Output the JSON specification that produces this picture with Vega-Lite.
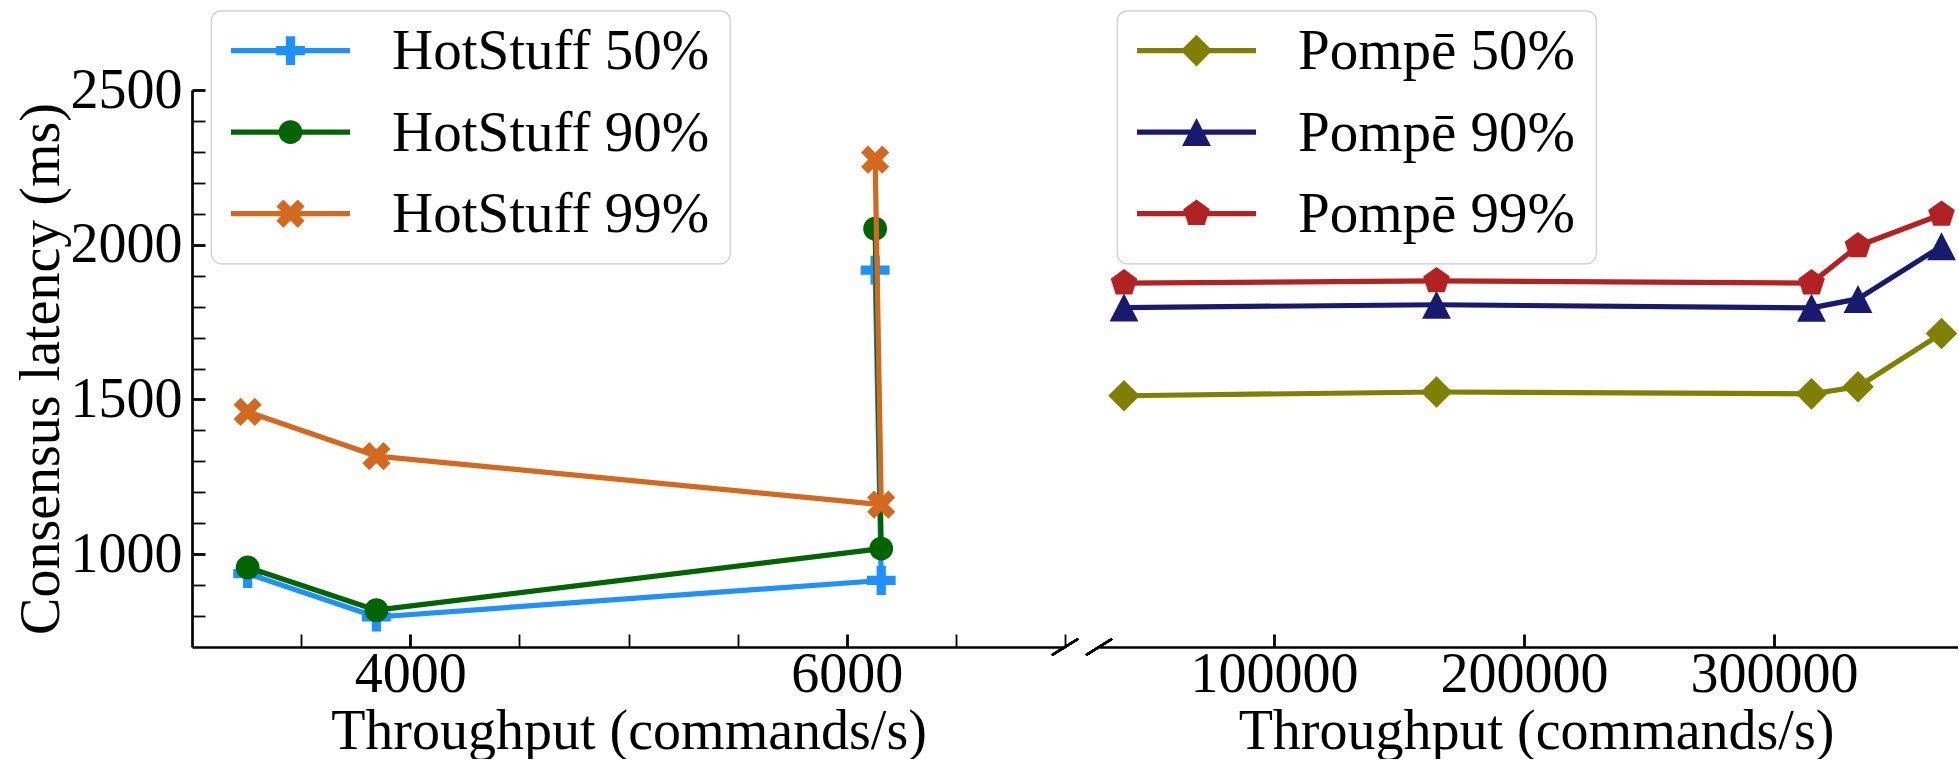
{
  "$schema": "https://vega.github.io/schema/vega-lite/v6.json",
  "padding": {"left": 12, "top": 9, "right": 0, "bottom": 0},
  "background": "white",
  "bounds": "flush",
  "spacing": 34,
  "config": {
    "font": "Liberation Serif",
    "view": {"stroke": null},
    "axis": {
      "domainColor": "black", "domainWidth": 2.7, "tickColor": "black", "tickWidth": 2.2,
      "labelColor": "black", "titleColor": "black",
      "labelFont": "Liberation Serif", "titleFont": "Liberation Serif",
      "labelFontSize": 56, "titleFontSize": 56, "titleFontWeight": "normal",
      "grid": false, "tickSize": -13, "labelFlush": false, "labelOverlap": false, "labelBound": false
    },
    "legend": {
      "labelFont": "Liberation Serif", "labelFontSize": 57, "labelColor": "black", "labelLimit": 0,
      "symbolSize": 784, "symbolStrokeWidth": 0, "padding": 20,
      "fillColor": "white", "strokeColor": "#cccccc", "strokeWidth": 1.2, "cornerRadius": 10,
      "rowPadding": 23.5, "symbolOffset": 31, "labelOffset": 73
    }
  },
  "datasets": {
    "hs": [
      {"series": "HotStuff 50%", "x": 3255, "y": 937, "i": 0},
      {"series": "HotStuff 50%", "x": 3845, "y": 797, "i": 1},
      {"series": "HotStuff 50%", "x": 6158, "y": 915, "i": 2},
      {"series": "HotStuff 50%", "x": 6130, "y": 1918, "i": 3},
      {"series": "HotStuff 90%", "x": 3255, "y": 957, "i": 0},
      {"series": "HotStuff 90%", "x": 3845, "y": 819, "i": 1},
      {"series": "HotStuff 90%", "x": 6158, "y": 1018, "i": 2},
      {"series": "HotStuff 90%", "x": 6130, "y": 2052, "i": 3},
      {"series": "HotStuff 99%", "x": 3255, "y": 1460, "i": 0},
      {"series": "HotStuff 99%", "x": 3845, "y": 1317, "i": 1},
      {"series": "HotStuff 99%", "x": 6158, "y": 1160, "i": 2},
      {"series": "HotStuff 99%", "x": 6130, "y": 2275, "i": 3}
    ],
    "pm": [
      {"series": "Pompē 50%", "x": 40000, "y": 1512, "i": 0},
      {"series": "Pompē 50%", "x": 165000, "y": 1524, "i": 1},
      {"series": "Pompē 50%", "x": 315000, "y": 1518, "i": 2},
      {"series": "Pompē 50%", "x": 333600, "y": 1541, "i": 3},
      {"series": "Pompē 50%", "x": 367000, "y": 1713, "i": 4},
      {"series": "Pompē 90%", "x": 40000, "y": 1797, "i": 0},
      {"series": "Pompē 90%", "x": 165000, "y": 1806, "i": 1},
      {"series": "Pompē 90%", "x": 315000, "y": 1796, "i": 2},
      {"series": "Pompē 90%", "x": 333600, "y": 1825, "i": 3},
      {"series": "Pompē 90%", "x": 367000, "y": 1995, "i": 4},
      {"series": "Pompē 99%", "x": 40000, "y": 1876, "i": 0},
      {"series": "Pompē 99%", "x": 165000, "y": 1883, "i": 1},
      {"series": "Pompē 99%", "x": 315000, "y": 1876, "i": 2},
      {"series": "Pompē 99%", "x": 333600, "y": 1996, "i": 3},
      {"series": "Pompē 99%", "x": 367000, "y": 2098, "i": 4}
    ]
  },
  "hconcat": [
    {
      "width": 873,
      "height": 557,
      "data": {"name": "hs"},
      "encoding": {
        "x": {"field": "x", "type": "quantitative", "scale": {"domain": [3000, 7000], "nice": false, "zero": false},
          "axis": {"values": [3500, 4000, 4500, 5000, 5500, 6000, 6500, 7000], "format": "d",
            "labelExpr": "datum.value % 2000 === 0 ? datum.label : ''",
            "tickWidth": {"condition": {"test": "datum.value % 2000 === 0", "value": 2.8}, "value": 1.8},
            "labelPadding": 13, "title": "Throughput (commands/s)", "titlePadding": 2}},
        "y": {"field": "y", "type": "quantitative", "scale": {"domain": [700, 2500], "nice": false, "zero": false},
          "axis": {"values": [800, 900, 1000, 1100, 1200, 1300, 1400, 1500, 1600, 1700, 1800, 1900, 2000, 2100, 2200, 2300, 2400, 2500], "format": "d",
            "labelExpr": "datum.value % 500 === 0 ? datum.label : ''",
            "tickWidth": {"condition": {"test": "datum.value % 500 === 0", "value": 2.8}, "value": 1.8},
            "labelPadding": 23, "title": "Consensus latency (ms)", "titlePadding": 0}},
        "color": {"field": "series", "type": "nominal",
          "scale": {"domain": ["HotStuff 50%", "HotStuff 90%", "HotStuff 99%"], "range": ["#1E90FF", "#006400", "#D2691E"]},
          "legend": {"orient": "none", "legendX": 19, "legendY": -79.5, "title": null,
            "encode": {
              "labels": {"update": {"dy": {"value": -7}}},
              "symbols": {"update": {"strokeWidth": {"value": 0}, "shape": {"signal": "datum.value === 'HotStuff 50%' ? 'M-4.25,-0.785H4.25V-0.415H-4.25Z M-0.33,-1.63H0.33V-0.93H1.03V-0.27H0.33V0.43H-0.33V-0.27H-1.03V-0.93H-0.33Z' : datum.value === 'HotStuff 90%' ? 'M-4.25,-0.785H4.25V-0.415H-4.25Z M0.85,-0.6A0.85,0.85,0,1,1,-0.85,-0.6A0.85,0.85,0,1,1,0.85,-0.6Z' : 'M-4.25,-0.785H4.25V-0.415H-4.25Z M1.004,-1.109L0.495,-0.6L1.004,-0.091L0.509,0.404L0,-0.105L-0.509,0.404L-1.004,-0.091L-0.495,-0.6L-1.004,-1.109L-0.509,-1.604L0,-1.095L0.509,-1.604Z'"}}}}}}
      },
      "layer": [
        {
          "mark": {"type": "rule", "color": "black", "strokeWidth": 2},
          "encoding": {
            "x": {"datum": 6940, "type": "quantitative"},
            "x2": {"datum": 7060},
            "y": {"datum": 674, "type": "quantitative"},
            "y2": {"datum": 726},
            "color": {"value": "black"}
          }
        },
        {
          "transform": [{"filter": "datum.series === 'HotStuff 50%'"}],
          "mark": {"type": "line", "strokeWidth": 5.2, "strokeJoin": "round", "strokeCap": "square"},
          "encoding": {"order": {"field": "i", "type": "quantitative"}}
        },
        {
          "transform": [{"filter": "datum.series === 'HotStuff 50%'"}],
          "mark": {"type": "point", "filled": true, "opacity": 1, "size": 784, "shape": "M-0.33,-1.03H0.33V-0.33H1.03V0.33H0.33V1.03H-0.33V0.33H-1.03V-0.33H-0.33Z"}
        },
        {
          "transform": [{"filter": "datum.series === 'HotStuff 90%'"}],
          "mark": {"type": "line", "strokeWidth": 5.2, "strokeJoin": "round", "strokeCap": "square"},
          "encoding": {"order": {"field": "i", "type": "quantitative"}}
        },
        {
          "transform": [{"filter": "datum.series === 'HotStuff 90%'"}],
          "mark": {"type": "point", "filled": true, "opacity": 1, "size": 784, "shape": "M0.85,0A0.85,0.85,0,1,1,-0.85,0A0.85,0.85,0,1,1,0.85,0Z"}
        },
        {
          "transform": [{"filter": "datum.series === 'HotStuff 99%'"}],
          "mark": {"type": "line", "strokeWidth": 5.2, "strokeJoin": "round", "strokeCap": "square"},
          "encoding": {"order": {"field": "i", "type": "quantitative"}}
        },
        {
          "transform": [{"filter": "datum.series === 'HotStuff 99%'"}],
          "mark": {"type": "point", "filled": true, "opacity": 1, "size": 784, "shape": "M1.004,-0.509L0.495,0L1.004,0.509L0.509,1.004L0,0.495L-0.509,1.004L-1.004,0.509L-0.495,0L-1.004,-0.509L-0.509,-1.004L0,-0.495L0.509,-1.004Z"}
        }
      ]
    },
    {
      "width": 859,
      "height": 557,
      "data": {"name": "pm"},
      "encoding": {
        "x": {"field": "x", "type": "quantitative", "scale": {"domain": [30000, 373600], "nice": false, "zero": false},
          "axis": {"values": [100000, 200000, 300000], "format": "d", "tickWidth": 2.8,
            "labelPadding": 13, "title": "Throughput (commands/s)", "titlePadding": 2, "titleX": 437}},
        "y": {"field": "y", "type": "quantitative", "scale": {"domain": [700, 2500], "nice": false, "zero": false}, "axis": null},
        "color": {"field": "series", "type": "nominal",
          "scale": {"domain": ["Pompē 50%", "Pompē 90%", "Pompē 99%"], "range": ["#808000", "#191970", "#B22222"]},
          "legend": {"orient": "none", "legendX": 18, "legendY": -79.5, "title": null,
            "encode": {
              "labels": {"update": {"dy": {"value": -7}}},
              "symbols": {"update": {"strokeWidth": {"value": 0}, "shape": {"signal": "datum.value === 'Pompē 50%' ? 'M-4.25,-0.785H4.25V-0.415H-4.25Z M0,-1.73L1.13,-0.6L0,0.53L-1.13,-0.6Z' : datum.value === 'Pompē 90%' ? 'M-4.25,-0.785H4.25V-0.415H-4.25Z M0,-1.6L1.03,0.4L-1.03,0.4Z' : 'M-4.25,-0.785H4.25V-0.415H-4.25Z M0,-1.6L0.951,-0.909L0.588,0.209L-0.588,0.209L-0.951,-0.909Z'"}}}}}}
      },
      "layer": [
        {
          "mark": {"type": "rule", "color": "black", "strokeWidth": 2},
          "encoding": {
            "x": {"datum": 24800, "type": "quantitative"},
            "x2": {"datum": 35200},
            "y": {"datum": 674, "type": "quantitative"},
            "y2": {"datum": 726},
            "color": {"value": "black"}
          }
        },
        {
          "transform": [{"filter": "datum.series === 'Pompē 50%'"}],
          "mark": {"type": "line", "strokeWidth": 5.2, "strokeJoin": "round", "strokeCap": "square"},
          "encoding": {"order": {"field": "i", "type": "quantitative"}}
        },
        {
          "transform": [{"filter": "datum.series === 'Pompē 50%'"}],
          "mark": {"type": "point", "filled": true, "opacity": 1, "size": 784, "shape": "M0,-1.13L1.13,0L0,1.13L-1.13,0Z"}
        },
        {
          "transform": [{"filter": "datum.series === 'Pompē 90%'"}],
          "mark": {"type": "line", "strokeWidth": 5.2, "strokeJoin": "round", "strokeCap": "square"},
          "encoding": {"order": {"field": "i", "type": "quantitative"}}
        },
        {
          "transform": [{"filter": "datum.series === 'Pompē 90%'"}],
          "mark": {"type": "point", "filled": true, "opacity": 1, "size": 784, "shape": "M0,-1L1.03,1L-1.03,1Z"}
        },
        {
          "transform": [{"filter": "datum.series === 'Pompē 99%'"}],
          "mark": {"type": "line", "strokeWidth": 5.2, "strokeJoin": "round", "strokeCap": "square"},
          "encoding": {"order": {"field": "i", "type": "quantitative"}}
        },
        {
          "transform": [{"filter": "datum.series === 'Pompē 99%'"}],
          "mark": {"type": "point", "filled": true, "opacity": 1, "size": 784, "shape": "M0,-1L0.951,-0.309L0.588,0.809L-0.588,0.809L-0.951,-0.309Z"}
        }
      ]
    }
  ],
  "resolve": {
    "scale": {"color": "independent", "x": "independent", "y": "independent"},
    "legend": {"color": "independent"}
  }
}
